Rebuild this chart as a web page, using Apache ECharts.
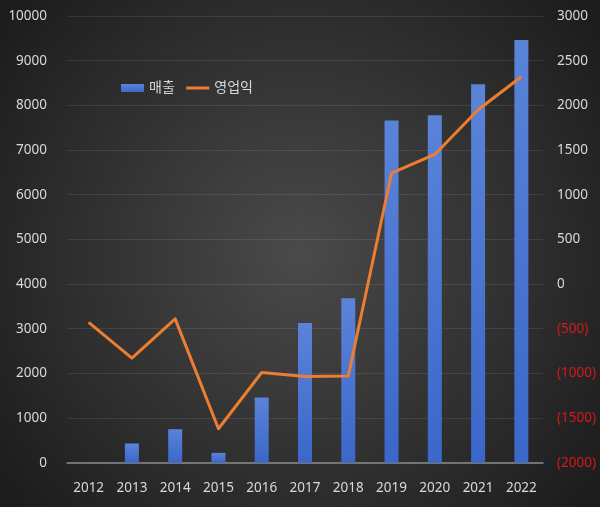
<!DOCTYPE html>
<html><head><meta charset="utf-8">
<script src="https://cdn.jsdelivr.net/npm/echarts@6/dist/echarts.min.js"></script>
<style>html,body{margin:0;padding:0;background:#222}#c{width:600px;height:507px}</style>
</head><body><div id="c"></div>
<script>
const years = ['2012','2013','2014','2015','2016','2017','2018','2019','2020','2021','2022'];
const sales = [null, 430, 750, 220, 1460, 3130, 3680, 7660, 7780, 8470, 9460];
const operatingProfit = [-430, -830, -390, -1620, -990, -1035, -1030, 1240, 1450, 1950, 2320];
const seriesNames = ['매출', '영업익'];
const FONT = '"Noto Sans", "Noto Sans CJK KR", sans-serif';

const chart = echarts.init(document.getElementById('c'));
chart.setOption({
  backgroundColor: {
    type: 'radial', x: 0.5, y: 0.5, r: 0.75,
    colorStops: [{offset: 0, color: '#4a4a4a'}, {offset: 1, color: '#1c1c1c'}]
  },
  animation: false,
  textStyle: {fontFamily: FONT},
  legend: {
    left: 116, top: 76,
    itemWidth: 23, itemHeight: 8, itemGap: 10,
    textStyle: {color: '#d9d9d9', fontSize: 14, fontFamily: FONT},
    data: [
      {name: seriesNames[0], icon: 'rect'},
      {name: seriesNames[1], itemStyle: {color: 'rgba(0,0,0,0)', borderWidth: 0, opacity: 0},
       lineStyle: {color: '#ed7d31', width: 3}}
    ]
  },
  grid: {left: 67, right: 57, top: 16, bottom: 44.3, containLabel: false},
  xAxis: {
    type: 'category', data: years,
    axisLine: {lineStyle: {color: '#8a8a8a', width: 1.5}},
    axisTick: {show: false},
    axisLabel: {color: '#d9d9d9', fontSize: 13.5, margin: 19, fontFamily: FONT}
  },
  yAxis: [{
    type: 'value', min: 0, max: 10000, interval: 1000,
    axisLine: {show: false}, axisTick: {show: false},
    splitLine: {lineStyle: {color: 'rgba(255,255,255,0.09)', width: 1}},
    axisLabel: {color: '#d9d9d9', fontSize: 13.5, margin: 20, fontFamily: FONT,
      formatter: v => String(v)}
  }, {
    type: 'value', min: -2000, max: 3000, interval: 500,
    axisLine: {show: false}, axisTick: {show: false}, splitLine: {show: false},
    axisLabel: {
      margin: 14, fontSize: 13.5, fontFamily: FONT,
      formatter: v => v < 0 ? '{n|(' + (-v) + ')}' : '{p|' + v + '}',
      rich: {
        n: {color: '#d41a1a', fontSize: 13.5, fontFamily: FONT},
        p: {color: '#d9d9d9', fontSize: 13.5, fontFamily: FONT}
      }
    }
  }],
  series: [{
    name: seriesNames[0], type: 'bar', data: sales, yAxisIndex: 0, barWidth: 14,
    itemStyle: {
      color: {type: 'linear', x: 0, y: 0, x2: 0, y2: 1,
        colorStops: [{offset: 0, color: '#5b83d8'}, {offset: 1, color: '#3a67c9'}]}
    }
  }, {
    name: seriesNames[1], type: 'line', data: operatingProfit, yAxisIndex: 1,
    symbol: 'none', lineStyle: {color: '#ed7d31', width: 3, join: 'round'},
    itemStyle: {color: '#ed7d31'}
  }]
});
</script></body></html>
